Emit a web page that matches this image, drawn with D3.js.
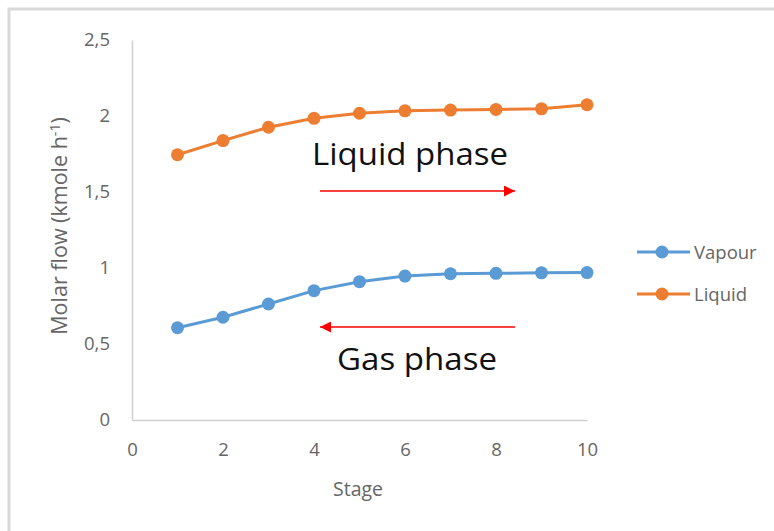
<!DOCTYPE html>
<html><head><meta charset="utf-8">
<script src="https://cdn.jsdelivr.net/npm/d3@7"></script>
<style>body{margin:0;background:#fff}svg{display:block}</style>
</head><body>
<script>
const stages = [1,2,3,4,5,6,7,8,9,10];
const vapour = [0.607,0.676,0.763,0.851,0.910,0.947,0.962,0.965,0.968,0.970];
const liquid = [1.745,1.838,1.926,1.985,2.018,2.034,2.039,2.043,2.047,2.074];
const xTicks = [0,2,4,6,8,10];
const yTicks = [0,0.5,1,1.5,2,2.5];
const seriesNames = ["Vapour","Liquid"];
const colors = ["#5B9BD5","#ED7D31"];

const W=774,H=531;
const svg=d3.select("body").append("svg").attr("width",W).attr("height",H);
// outer frame
svg.append("rect").attr("x",9).attr("y",9).attr("width",W+20).attr("height",H+20)
  .attr("fill","none").attr("stroke","#d9d9d9").attr("stroke-width",3);

const x=d3.scaleLinear().domain([0,10]).range([132,587]);
const y=d3.scaleLinear().domain([0,2.5]).range([420,40]);
const font="'Open Sans', 'Liberation Sans', sans-serif";

// axes
const xa=svg.append("g").attr("transform","translate(0,420)")
  .call(d3.axisBottom(x).tickValues(xTicks).tickSize(0).tickPadding(23).tickFormat(d=>String(d)));
const ya=svg.append("g").attr("transform","translate(132,0)")
  .call(d3.axisLeft(y).tickValues(yTicks).tickSize(0).tickPadding(22).tickFormat(d=>String(d).replace(".",",")));
[xa,ya].forEach(g=>{
  g.attr("font-size",null);
  g.select(".domain").attr("stroke","#d0d0d0").attr("stroke-width",1.5);
  g.selectAll("text").attr("fill","#666").style("font-family",font).style("font-size","18.5px");
});

// axis titles
svg.append("text").attr("x",358).attr("y",496).attr("text-anchor","middle")
  .attr("fill","#666").style("font-family",font).style("font-size","19.5px").text("Stage");
const yt=svg.append("text").attr("transform","translate(67,226) rotate(-90)").attr("text-anchor","middle")
  .attr("fill","#666").style("font-family",font).style("font-size","21.5px");
yt.append("tspan").text("Molar flow (kmole h");
yt.append("tspan").attr("dy",-7).style("font-size","14px").text("-1");
yt.append("tspan").attr("dy",7).text(")");

// series
const data=[vapour,liquid];
const line=d3.line().x((d,i)=>x(stages[i])).y(d=>y(d));
data.forEach((s,k)=>{
  svg.append("path").datum(s).attr("d",line).attr("fill","none")
    .attr("stroke",colors[k]).attr("stroke-width",3).attr("stroke-linejoin","round");
  svg.selectAll(null).data(s).enter().append("circle")
    .attr("cx",(d,i)=>x(stages[i])).attr("cy",d=>y(d)).attr("r",6.5).attr("fill",colors[k]);
});

// legend
const legY=[252,294];
seriesNames.forEach((n,k)=>{
  const g=svg.append("g");
  g.append("line").attr("x1",637).attr("x2",690).attr("y1",legY[k]).attr("y2",legY[k])
    .attr("stroke",colors[k]).attr("stroke-width",3);
  g.append("circle").attr("cx",662).attr("cy",legY[k]).attr("r",6.5).attr("fill",colors[k]);
  g.append("text").attr("x",694).attr("y",legY[k]+7).attr("fill","#666")
    .style("font-family",font).style("font-size","18.5px").text(n);
});

// annotations
const defs=svg.append("defs");
defs.append("marker").attr("id","ah").attr("viewBox","0 0 10 10").attr("refX",10).attr("refY",5)
  .attr("markerWidth",11).attr("markerHeight",11).attr("markerUnits","userSpaceOnUse").attr("orient","auto")
  .append("path").attr("d","M0,0L10,5L0,10Z").attr("fill","#ff0000");
svg.append("line").attr("x1",320).attr("x2",515).attr("y1",191).attr("y2",191)
  .attr("stroke","#ff0000").attr("stroke-width",1.3).attr("marker-end","url(#ah)");
svg.append("line").attr("x1",515).attr("x2",320).attr("y1",327).attr("y2",327)
  .attr("stroke","#ff0000").attr("stroke-width",1.3).attr("marker-end","url(#ah)");
svg.append("text").attr("x",312).attr("y",165).attr("textLength",196).attr("lengthAdjust","spacingAndGlyphs")
  .attr("fill","#111").style("font-family",font).style("font-size","31px").text("Liquid phase");
svg.append("text").attr("x",337).attr("y",370).attr("textLength",160).attr("lengthAdjust","spacingAndGlyphs")
  .attr("fill","#111").style("font-family",font).style("font-size","31px").text("Gas phase");
</script>
</body></html>
